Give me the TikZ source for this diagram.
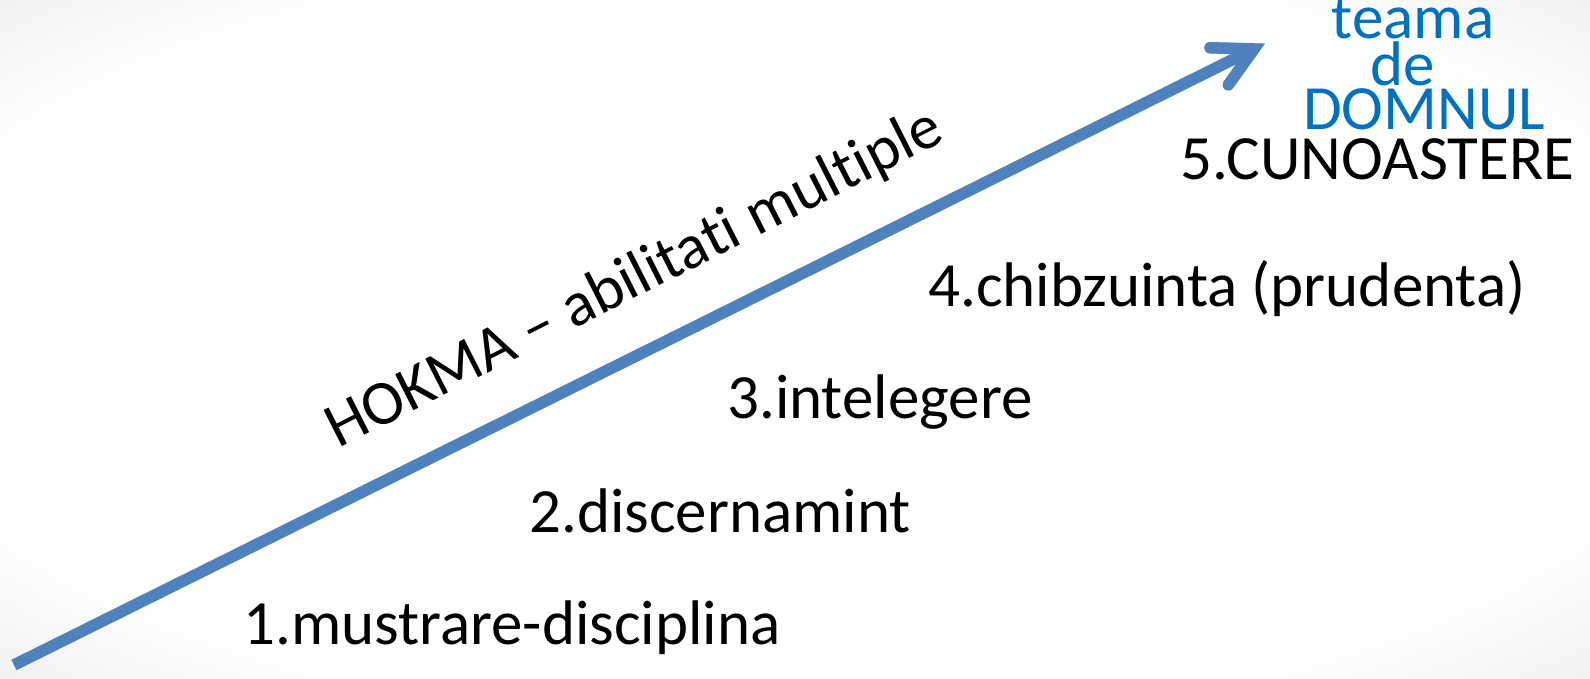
\documentclass[tikz,border=0pt]{standalone}
\usepackage{fontspec}
\setmainfont{Carlito}[Ligatures={NoCommon,NoContextual}]
\usetikzlibrary{calc}
\definecolor{arrowblue}{HTML}{4F81BD}
\definecolor{textblue}{HTML}{0070C0}
\definecolor{bggray}{HTML}{D8D8D8}
\pgfdeclareradialshading{bgshade}{\pgfpoint{0bp}{0bp}}{color(0bp)=(white); color(28bp)=(white); color(50bp)=(bggray); color(100bp)=(bggray)}
\tikzset{
  lbl/.style={inner sep=0pt, font=\fontsize{63}{63}\selectfont, text=black},
  bluelbl/.style={lbl, text=textblue, anchor=base},
  arrowline/.style={draw=arrowblue, line width=11.5pt},
  shadowline/.style={draw=black, opacity=0.12, line width=12pt}
}
\begin{document}
\begin{tikzpicture}[x=1pt,y=1pt]
\useasboundingbox (0,0) rectangle (1590,678);
\shade[shading=bgshade] (0,0) rectangle (1590,678);
% arrow
\coordinate (start) at (14,13);
\coordinate (tip) at (1254,629);
\coordinate (armA) at ($(tip)+(178.4:44)$);
\coordinate (armB) at ($(tip)+(234.4:44)$);
\begin{scope}[shift={(2,-3)}]
  \draw[shadowline] (start) -- (tip);
  \draw[shadowline, line cap=round, line join=miter] (armA) -- (tip) -- (armB);
\end{scope}
\draw[arrowline] (start) -- (tip);
\draw[arrowline, line cap=round, line join=miter] (armA) -- (tip) -- (armB);
% slanted label
\node[lbl, anchor=base west, rotate=26.9] (hokma) at (338,229) {HOKMA – abilitati multiple};
% steps
\node[lbl, anchor=base west] (s1) at (243,34) {1.mustrare-disciplina};
\node[lbl, anchor=base west] (s2) at (529,146) {2.discernamint};
\node[lbl, anchor=base west] (s3) at (727,259) {3.intelegere};
\node[lbl, anchor=base west] (s4) at (928,371) {4.chibzuinta (prudenta)};
\node[lbl, anchor=base west] (s5) at (1180,498) {5.CUNOASTERE};
% blue words
\node[bluelbl] (b1) at (1413,639) {teama};
\node[bluelbl] (b2) at (1403,592) {de};
\node[bluelbl] (b3) at (1424,548) {DOMNUL};
\end{tikzpicture}
\end{document}
